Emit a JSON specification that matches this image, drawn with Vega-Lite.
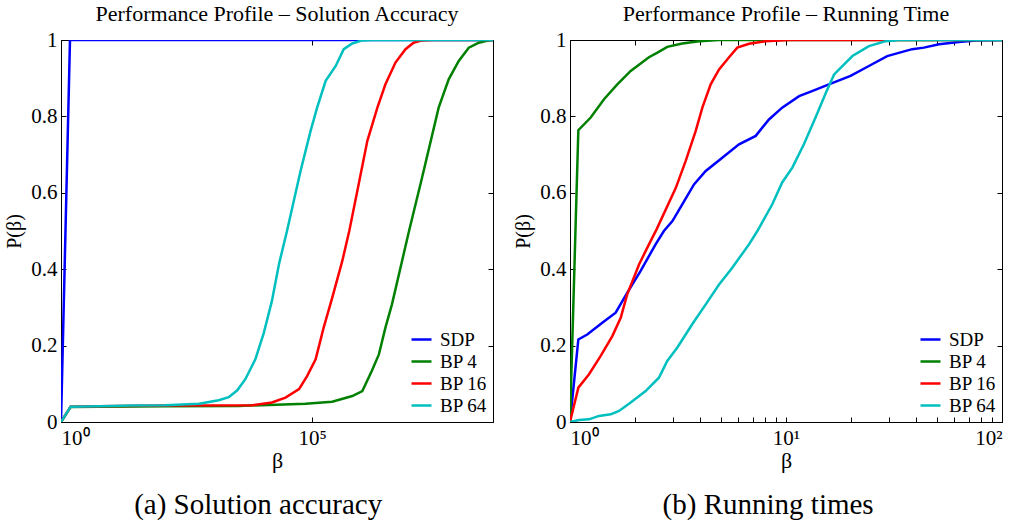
{
  "$schema": "https://vega.github.io/schema/vega-lite/v6.json",
  "background": "white",
  "padding": {"left": 4, "top": 2, "right": 0, "bottom": 0},
  "config": {
    "font": "Liberation Serif",
    "view": {"stroke": "black", "strokeWidth": 1},
    "axis": {"grid": false, "domainColor": "black", "tickColor": "black", "labelColor": "black", "titleColor": "black", "labelFont": "Liberation Serif", "titleFont": "Liberation Serif", "labelFontSize": 21, "titleFontSize": 21, "titleFontWeight": "normal", "tickSize": -5, "domainWidth": 1, "tickWidth": 1},
    "legend": {"orient": "bottom-right", "offset": 6, "padding": 0, "labelFont": "Liberation Serif", "labelFontSize": 19, "labelColor": "black", "symbolType": "stroke", "symbolStrokeWidth": 2.5, "symbolSize": 400, "labelOffset": 7, "rowPadding": -1},
    "title": {"font": "Liberation Serif", "fontSize": 22, "fontWeight": "normal", "color": "black"},
    "concat": {"spacing": 19}
  },
  "datasets": {
    "acc": [
      {"s": "SDP", "b": 1, "p": 0}, {"s": "SDP", "b": 1.51, "p": 1}, {"s": "SDP", "b": 400000000, "p": 1},
      {"s": "BP 4", "b": 1, "p": 0}, {"s": "BP 4", "b": 1.55, "p": 0.039}, {"s": "BP 4", "b": 5.75, "p": 0.040}, {"s": "BP 4", "b": 120, "p": 0.041}, {"s": "BP 4", "b": 3467, "p": 0.042}, {"s": "BP 4", "b": 74130, "p": 0.048}, {"s": "BP 4", "b": 251200, "p": 0.053}, {"s": "BP 4", "b": 631000, "p": 0.068}, {"s": "BP 4", "b": 1000000, "p": 0.081}, {"s": "BP 4", "b": 1549000, "p": 0.134}, {"s": "BP 4", "b": 2138000, "p": 0.177}, {"s": "BP 4", "b": 2884000, "p": 0.247}, {"s": "BP 4", "b": 3890000, "p": 0.308}, {"s": "BP 4", "b": 6166000, "p": 0.421}, {"s": "BP 4", "b": 8511000, "p": 0.5}, {"s": "BP 4", "b": 15490000, "p": 0.640}, {"s": "BP 4", "b": 33110000, "p": 0.823}, {"s": "BP 4", "b": 52480000, "p": 0.897}, {"s": "BP 4", "b": 83180000, "p": 0.945}, {"s": "BP 4", "b": 131800000, "p": 0.980}, {"s": "BP 4", "b": 208900000, "p": 0.993}, {"s": "BP 4", "b": 331100000, "p": 0.999}, {"s": "BP 4", "b": 400000000, "p": 1},
      {"s": "BP 16", "b": 1, "p": 0}, {"s": "BP 16", "b": 1.55, "p": 0.040}, {"s": "BP 16", "b": 5.75, "p": 0.041}, {"s": "BP 16", "b": 120, "p": 0.043}, {"s": "BP 16", "b": 6460, "p": 0.044}, {"s": "BP 16", "b": 15850, "p": 0.051}, {"s": "BP 16", "b": 29510, "p": 0.064}, {"s": "BP 16", "b": 54950, "p": 0.086}, {"s": "BP 16", "b": 79430, "p": 0.120}, {"s": "BP 16", "b": 117500, "p": 0.164}, {"s": "BP 16", "b": 169800, "p": 0.247}, {"s": "BP 16", "b": 251200, "p": 0.325}, {"s": "BP 16", "b": 398100, "p": 0.421}, {"s": "BP 16", "b": 549500, "p": 0.5}, {"s": "BP 16", "b": 871000, "p": 0.631}, {"s": "BP 16", "b": 1259000, "p": 0.736}, {"s": "BP 16", "b": 1995000, "p": 0.823}, {"s": "BP 16", "b": 2884000, "p": 0.884}, {"s": "BP 16", "b": 4571000, "p": 0.941}, {"s": "BP 16", "b": 7244000, "p": 0.976}, {"s": "BP 16", "b": 10470000, "p": 0.993}, {"s": "BP 16", "b": 15490000, "p": 0.999}, {"s": "BP 16", "b": 24550000, "p": 1}, {"s": "BP 16", "b": 400000000, "p": 1},
      {"s": "BP 64", "b": 1, "p": 0}, {"s": "BP 64", "b": 1.55, "p": 0.040}, {"s": "BP 64", "b": 5.75, "p": 0.041}, {"s": "BP 64", "b": 26.3, "p": 0.043}, {"s": "BP 64", "b": 120, "p": 0.044}, {"s": "BP 64", "b": 562, "p": 0.048}, {"s": "BP 64", "b": 1380, "p": 0.057}, {"s": "BP 64", "b": 2190, "p": 0.065}, {"s": "BP 64", "b": 3240, "p": 0.083}, {"s": "BP 64", "b": 4680, "p": 0.112}, {"s": "BP 64", "b": 7410, "p": 0.164}, {"s": "BP 64", "b": 10960, "p": 0.234}, {"s": "BP 64", "b": 15850, "p": 0.317}, {"s": "BP 64", "b": 21880, "p": 0.413}, {"s": "BP 64", "b": 31620, "p": 0.5}, {"s": "BP 64", "b": 58880, "p": 0.657}, {"s": "BP 64", "b": 93330, "p": 0.762}, {"s": "BP 64", "b": 125900, "p": 0.823}, {"s": "BP 64", "b": 186200, "p": 0.893}, {"s": "BP 64", "b": 295100, "p": 0.932}, {"s": "BP 64", "b": 426600, "p": 0.976}, {"s": "BP 64", "b": 631000, "p": 0.991}, {"s": "BP 64", "b": 1000000, "p": 0.999}, {"s": "BP 64", "b": 1549000, "p": 1}, {"s": "BP 64", "b": 400000000, "p": 1}
    ],
    "time": [
      {"s": "SDP", "b": 1, "p": 0}, {"s": "SDP", "b": 1.093, "p": 0.216}, {"s": "SDP", "b": 1.202, "p": 0.229}, {"s": "SDP", "b": 1.411, "p": 0.260}, {"s": "SDP", "b": 1.627, "p": 0.286}, {"s": "SDP", "b": 1.84, "p": 0.338}, {"s": "SDP", "b": 2.12, "p": 0.395}, {"s": "SDP", "b": 2.49, "p": 0.465}, {"s": "SDP", "b": 2.72, "p": 0.5}, {"s": "SDP", "b": 2.98, "p": 0.526}, {"s": "SDP", "b": 3.31, "p": 0.570}, {"s": "SDP", "b": 3.75, "p": 0.622}, {"s": "SDP", "b": 4.25, "p": 0.657}, {"s": "SDP", "b": 5.07, "p": 0.692}, {"s": "SDP", "b": 6.06, "p": 0.727}, {"s": "SDP", "b": 7.24, "p": 0.749}, {"s": "SDP", "b": 8.34, "p": 0.792}, {"s": "SDP", "b": 9.6, "p": 0.823}, {"s": "SDP", "b": 11.5, "p": 0.853}, {"s": "SDP", "b": 13.2, "p": 0.866}, {"s": "SDP", "b": 15.8, "p": 0.884}, {"s": "SDP", "b": 19.9, "p": 0.906}, {"s": "SDP", "b": 24.2, "p": 0.932}, {"s": "SDP", "b": 29.4, "p": 0.958}, {"s": "SDP", "b": 38.4, "p": 0.976}, {"s": "SDP", "b": 43.5, "p": 0.980}, {"s": "SDP", "b": 51.1, "p": 0.989}, {"s": "SDP", "b": 63.2, "p": 0.995}, {"s": "SDP", "b": 75.5, "p": 0.999}, {"s": "SDP", "b": 100, "p": 1},
      {"s": "BP 4", "b": 1, "p": 0}, {"s": "BP 4", "b": 1.093, "p": 0.764}, {"s": "BP 4", "b": 1.247, "p": 0.797}, {"s": "BP 4", "b": 1.437, "p": 0.845}, {"s": "BP 4", "b": 1.656, "p": 0.884}, {"s": "BP 4", "b": 1.91, "p": 0.919}, {"s": "BP 4", "b": 2.32, "p": 0.955}, {"s": "BP 4", "b": 2.54, "p": 0.967}, {"s": "BP 4", "b": 2.82, "p": 0.982}, {"s": "BP 4", "b": 3.31, "p": 0.991}, {"s": "BP 4", "b": 3.96, "p": 0.997}, {"s": "BP 4", "b": 4.9, "p": 1}, {"s": "BP 4", "b": 100, "p": 1},
      {"s": "BP 16", "b": 1, "p": 0}, {"s": "BP 16", "b": 1.093, "p": 0.090}, {"s": "BP 16", "b": 1.225, "p": 0.125}, {"s": "BP 16", "b": 1.387, "p": 0.173}, {"s": "BP 16", "b": 1.57, "p": 0.225}, {"s": "BP 16", "b": 1.717, "p": 0.273}, {"s": "BP 16", "b": 1.84, "p": 0.334}, {"s": "BP 16", "b": 2.09, "p": 0.413}, {"s": "BP 16", "b": 2.32, "p": 0.465}, {"s": "BP 16", "b": 2.52, "p": 0.505}, {"s": "BP 16", "b": 3.09, "p": 0.613}, {"s": "BP 16", "b": 3.43, "p": 0.683}, {"s": "BP 16", "b": 3.82, "p": 0.762}, {"s": "BP 16", "b": 4.1, "p": 0.823}, {"s": "BP 16", "b": 4.48, "p": 0.884}, {"s": "BP 16", "b": 4.9, "p": 0.923}, {"s": "BP 16", "b": 5.45, "p": 0.955}, {"s": "BP 16", "b": 5.95, "p": 0.980}, {"s": "BP 16", "b": 6.74, "p": 0.990}, {"s": "BP 16", "b": 8.05, "p": 0.997}, {"s": "BP 16", "b": 10.3, "p": 1}, {"s": "BP 16", "b": 100, "p": 1},
      {"s": "BP 64", "b": 1, "p": 0}, {"s": "BP 64", "b": 1.1, "p": 0.005}, {"s": "BP 64", "b": 1.225, "p": 0.007}, {"s": "BP 64", "b": 1.362, "p": 0.016}, {"s": "BP 64", "b": 1.544, "p": 0.020}, {"s": "BP 64", "b": 1.686, "p": 0.029}, {"s": "BP 64", "b": 1.91, "p": 0.051}, {"s": "BP 64", "b": 2.24, "p": 0.081}, {"s": "BP 64", "b": 2.58, "p": 0.116}, {"s": "BP 64", "b": 2.82, "p": 0.160}, {"s": "BP 64", "b": 3.14, "p": 0.195}, {"s": "BP 64", "b": 3.68, "p": 0.256}, {"s": "BP 64", "b": 4.25, "p": 0.308}, {"s": "BP 64", "b": 4.9, "p": 0.360}, {"s": "BP 64", "b": 5.64, "p": 0.404}, {"s": "BP 64", "b": 6.74, "p": 0.465}, {"s": "BP 64", "b": 7.37, "p": 0.5}, {"s": "BP 64", "b": 8.64, "p": 0.570}, {"s": "BP 64", "b": 9.6, "p": 0.627}, {"s": "BP 64", "b": 10.7, "p": 0.666}, {"s": "BP 64", "b": 12.1, "p": 0.727}, {"s": "BP 64", "b": 13.7, "p": 0.797}, {"s": "BP 64", "b": 15.3, "p": 0.862}, {"s": "BP 64", "b": 16.7, "p": 0.910}, {"s": "BP 64", "b": 20.3, "p": 0.958}, {"s": "BP 64", "b": 24.2, "p": 0.984}, {"s": "BP 64", "b": 29, "p": 0.997}, {"s": "BP 64", "b": 33.4, "p": 1}, {"s": "BP 64", "b": 100, "p": 1}
    ]
  },
  "resolve": {"scale": {"color": "independent"}, "legend": {"color": "independent"}},
  "hconcat": [
    {
      "title": {"text": "(a) Solution accuracy", "orient": "bottom", "anchor": "middle", "fontSize": 29, "offset": 19, "dx": 9},
      "resolve": {"scale": {"color": "independent"}, "legend": {"color": "independent"}},
      "vconcat": [
        {
          "title": {"text": "Performance Profile – Solution Accuracy", "offset": 3},
          "width": 432,
          "height": 382,
          "data": {"name": "acc"},
          "layer": [
            {
              "layer": [
                {"transform": [{"filter": "datum.s == 'SDP'"}], "mark": {"type": "line", "strokeWidth": 2.5, "clip": true}},
                {"transform": [{"filter": "datum.s == 'BP 4'"}], "mark": {"type": "line", "strokeWidth": 2.5, "clip": true}},
                {"transform": [{"filter": "datum.s == 'BP 16'"}], "mark": {"type": "line", "strokeWidth": 2.5, "clip": true}},
                {"transform": [{"filter": "datum.s == 'BP 64'"}], "mark": {"type": "line", "strokeWidth": 2.5, "clip": true}}
              ],
              "encoding": {
                "x": {"field": "b", "type": "quantitative", "scale": {"type": "log", "domain": [1, 400000000], "nice": false}, "axis": {"values": [1, 100000], "labelExpr": "datum.value == 1 ? '10⁰' : '10⁵'", "title": "β", "titleFontSize": 22, "labelPadding": 10, "titlePadding": 2}},
                "y": {"field": "p", "type": "quantitative", "scale": {"domain": [0, 1], "nice": false}, "axis": {"values": [0, 0.2, 0.4, 0.6, 0.8, 1], "format": ".1~f", "title": "P(β)", "titleFontSize": 20, "labelPadding": 9, "titlePadding": 6}},
                "color": {"field": "s", "type": "nominal", "scale": {"domain": ["SDP", "BP 4", "BP 16", "BP 64"], "range": ["#0000ff", "#008000", "#ff0000", "#00bfbf"]}, "legend": {"title": null, "orient": "bottom-right"}}
              }
            },
            {
              "mark": {"type": "line", "opacity": 0},
              "encoding": {
                "x": {"field": "b", "type": "quantitative", "scale": {"type": "log", "domain": [1, 400000000], "nice": false}, "axis": {"values": [1, 100000], "labels": false, "title": null, "domain": false}},
                "y": {"field": "p", "type": "quantitative", "scale": {"domain": [0, 1], "nice": false}, "axis": {"values": [0, 0.2, 0.4, 0.6, 0.8, 1], "labels": false, "title": null, "domain": false}}
              }
            }
          ],
          "resolve": {"axis": {"x": "independent", "y": "independent"}}
        }
      ]
    },
    {
      "title": {"text": "(b) Running times", "orient": "bottom", "anchor": "middle", "fontSize": 29, "offset": 19, "dx": 10},
      "resolve": {"scale": {"color": "independent"}, "legend": {"color": "independent"}},
      "vconcat": [
        {
          "title": {"text": "Performance Profile – Running Time", "offset": 3},
          "width": 432,
          "height": 382,
          "data": {"name": "time"},
          "layer": [
            {
              "layer": [
                {"transform": [{"filter": "datum.s == 'SDP'"}], "mark": {"type": "line", "strokeWidth": 2.5, "clip": true}},
                {"transform": [{"filter": "datum.s == 'BP 4'"}], "mark": {"type": "line", "strokeWidth": 2.5, "clip": true}},
                {"transform": [{"filter": "datum.s == 'BP 16'"}], "mark": {"type": "line", "strokeWidth": 2.5, "clip": true}},
                {"transform": [{"filter": "datum.s == 'BP 64'"}], "mark": {"type": "line", "strokeWidth": 2.5, "clip": true}}
              ],
              "encoding": {
                "x": {"field": "b", "type": "quantitative", "scale": {"type": "log", "domain": [1, 100], "nice": false}, "axis": {"values": [1, 2, 3, 4, 5, 6, 7, 8, 9, 10, 20, 30, 40, 50, 60, 70, 80, 90, 100], "labelExpr": "datum.value == 1 ? '10⁰' : datum.value == 10 ? '10¹' : datum.value == 100 ? '10²' : ''", "title": "β", "titleFontSize": 22, "labelPadding": 10, "titlePadding": 2, "labelOverlap": false}},
                "y": {"field": "p", "type": "quantitative", "scale": {"domain": [0, 1], "nice": false}, "axis": {"values": [0, 0.2, 0.4, 0.6, 0.8, 1], "format": ".1~f", "title": "P(β)", "titleFontSize": 20, "labelPadding": 9, "titlePadding": 6}},
                "color": {"field": "s", "type": "nominal", "scale": {"domain": ["SDP", "BP 4", "BP 16", "BP 64"], "range": ["#0000ff", "#008000", "#ff0000", "#00bfbf"]}, "legend": {"title": null, "orient": "bottom-right"}}
              }
            },
            {
              "mark": {"type": "line", "opacity": 0},
              "encoding": {
                "x": {"field": "b", "type": "quantitative", "scale": {"type": "log", "domain": [1, 100], "nice": false}, "axis": {"values": [1, 2, 3, 4, 5, 6, 7, 8, 9, 10, 20, 30, 40, 50, 60, 70, 80, 90, 100], "labels": false, "title": null, "domain": false}},
                "y": {"field": "p", "type": "quantitative", "scale": {"domain": [0, 1], "nice": false}, "axis": {"values": [0, 0.2, 0.4, 0.6, 0.8, 1], "labels": false, "title": null, "domain": false}}
              }
            }
          ],
          "resolve": {"axis": {"x": "independent", "y": "independent"}}
        }
      ]
    }
  ]
}
